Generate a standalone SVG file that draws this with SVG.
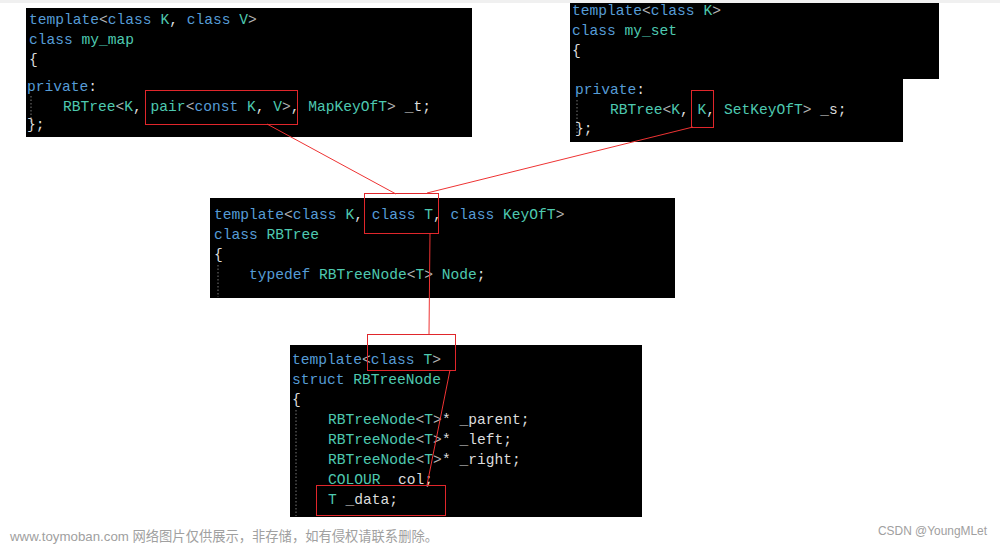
<svg xmlns="http://www.w3.org/2000/svg" width="1000" height="545" viewBox="0 0 1000 545">
<style>
.bg{fill:#000}
.code{font-family:"Liberation Mono","DejaVu Sans Mono",monospace;font-size:14.6px;fill:#dcdcdc;white-space:pre}
.k{fill:#569cd6}
.t{fill:#4ec9b0}
.g{fill:#b4b4b4}
.guide{stroke:#777;stroke-width:1;stroke-dasharray:1.5 2}
.hl{fill:none;stroke:#e0262b;stroke-width:1}
.conn{fill:none;stroke:#ee3333;stroke-width:1}
.wm{font-family:"Liberation Sans","Noto Sans CJK SC",sans-serif;fill:#a0a0a0}
</style>
<rect width="1000" height="545" fill="#fff"/>
<rect x="0" y="0" width="1000" height="3" fill="#f0f0f0"/>

<g id="my_map">
<rect class="bg" x="26" y="8" width="446" height="129"/>
<line class="guide" x1="31" y1="96" x2="31" y2="123"/>
<text class="code" x="29" y="24" xml:space="preserve"><tspan class="k">template</tspan><tspan class="g">&lt;</tspan><tspan class="k">class</tspan> <tspan class="t">K</tspan>, <tspan class="k">class</tspan> <tspan class="t">V</tspan><tspan class="g">&gt;</tspan></text>
<text class="code" x="29" y="44" xml:space="preserve"><tspan class="k">class</tspan> <tspan class="t">my_map</tspan></text>
<text class="code" x="29" y="64">{</text>
<text class="code" x="27" y="91"><tspan class="k">private</tspan>:</text>
<text class="code" x="63" y="111" xml:space="preserve"><tspan class="t">RBTree</tspan><tspan class="g">&lt;</tspan><tspan class="t">K</tspan>, <tspan class="t">pair</tspan><tspan class="g">&lt;</tspan><tspan class="k">const</tspan> <tspan class="t">K</tspan>, <tspan class="t">V</tspan><tspan class="g">&gt;</tspan>, <tspan class="t">MapKeyOfT</tspan><tspan class="g">&gt;</tspan> _t;</text>
<text class="code" x="27" y="129">};</text>
</g>

<g id="my_set">
<path class="bg" d="M570 3H939V79H903V142H570Z"/>
<line class="guide" x1="577" y1="100" x2="577" y2="135"/>
<text class="code" x="572" y="15" xml:space="preserve"><tspan class="k">template</tspan><tspan class="g">&lt;</tspan><tspan class="k">class</tspan> <tspan class="t">K</tspan><tspan class="g">&gt;</tspan></text>
<text class="code" x="572" y="35" xml:space="preserve"><tspan class="k">class</tspan> <tspan class="t">my_set</tspan></text>
<text class="code" x="572" y="55">{</text>
<text class="code" x="575" y="94"><tspan class="k">private</tspan>:</text>
<text class="code" x="610" y="114" xml:space="preserve"><tspan class="t">RBTree</tspan><tspan class="g">&lt;</tspan><tspan class="t">K</tspan>, <tspan class="t">K</tspan>, <tspan class="t">SetKeyOfT</tspan><tspan class="g">&gt;</tspan> _s;</text>
<text class="code" x="575" y="133">};</text>
</g>

<g id="rbtree">
<rect class="bg" x="210" y="198" width="465" height="100"/>
<line class="guide" x1="218" y1="265" x2="218" y2="297"/>
<text class="code" x="214" y="219" xml:space="preserve"><tspan class="k">template</tspan><tspan class="g">&lt;</tspan><tspan class="k">class</tspan> <tspan class="t">K</tspan>, <tspan class="k">class</tspan> <tspan class="t">T</tspan>, <tspan class="k">class</tspan> <tspan class="t">KeyOfT</tspan><tspan class="g">&gt;</tspan></text>
<text class="code" x="214" y="239" xml:space="preserve"><tspan class="k">class</tspan> <tspan class="t">RBTree</tspan></text>
<text class="code" x="214" y="259">{</text>
<text class="code" x="249" y="279" xml:space="preserve"><tspan class="k">typedef</tspan> <tspan class="t">RBTreeNode</tspan><tspan class="g">&lt;</tspan><tspan class="t">T</tspan><tspan class="g">&gt;</tspan> <tspan class="t">Node</tspan>;</text>
</g>

<g id="rbtreenode">
<rect class="bg" x="290" y="345" width="352" height="172"/>
<line class="guide" x1="296" y1="410" x2="296" y2="516"/>
<text class="code" x="292" y="364" xml:space="preserve"><tspan class="k">template</tspan><tspan class="g">&lt;</tspan><tspan class="k">class</tspan> <tspan class="t">T</tspan><tspan class="g">&gt;</tspan></text>
<text class="code" x="292" y="384" xml:space="preserve"><tspan class="k">struct</tspan> <tspan class="t">RBTreeNode</tspan></text>
<text class="code" x="292" y="404">{</text>
<text class="code" x="328" y="424" xml:space="preserve"><tspan class="t">RBTreeNode</tspan><tspan class="g">&lt;</tspan><tspan class="t">T</tspan><tspan class="g">&gt;</tspan>* _parent;</text>
<text class="code" x="328" y="444" xml:space="preserve"><tspan class="t">RBTreeNode</tspan><tspan class="g">&lt;</tspan><tspan class="t">T</tspan><tspan class="g">&gt;</tspan>* _left;</text>
<text class="code" x="328" y="464" xml:space="preserve"><tspan class="t">RBTreeNode</tspan><tspan class="g">&lt;</tspan><tspan class="t">T</tspan><tspan class="g">&gt;</tspan>* _right;</text>
<text class="code" x="328" y="484" xml:space="preserve"><tspan class="t">COLOUR</tspan> _col;</text>
<text class="code" x="328" y="504" xml:space="preserve"><tspan class="t">T</tspan> _data;</text>
</g>

<g id="highlights">
<rect class="hl" x="145.5" y="90.5" width="152" height="34"/>
<rect class="hl" x="691.5" y="90.5" width="22" height="37"/>
<rect class="hl" x="364.5" y="193.5" width="74" height="40"/>
<rect class="hl" x="367.5" y="334.5" width="88" height="36"/>
<rect class="hl" x="316.5" y="485.5" width="129" height="30"/>
</g>

<g id="connectors">
<line class="conn" x1="267" y1="124" x2="396" y2="194"/>
<line class="conn" x1="693" y1="127" x2="427" y2="193"/>
<line class="conn" x1="430" y1="233" x2="429" y2="334"/>
<line class="conn" x1="450" y1="370" x2="427" y2="485"/>
</g>

<g id="watermarks">
<text class="wm" x="10" y="541" font-size="13.5" textLength="428" lengthAdjust="spacingAndGlyphs">www.toymoban.com 网络图片仅供展示，非存储，如有侵权请联系删除。</text>
<text class="wm" x="878" y="535" font-size="12.5" textLength="109" lengthAdjust="spacingAndGlyphs">CSDN @YoungMLet</text>
</g>
</svg>
